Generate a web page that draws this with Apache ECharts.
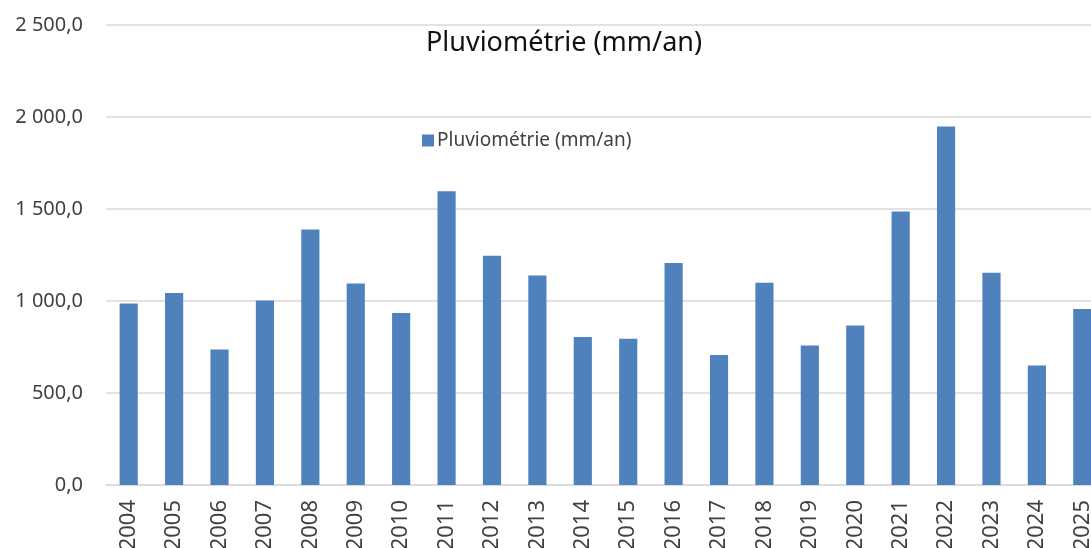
<!DOCTYPE html>
<html>
<head>
<meta charset="utf-8">
<script src="https://cdn.jsdelivr.net/npm/echarts@6/dist/echarts.min.js"></script>
<style>html,body{margin:0;padding:0;background:#fff}#c{width:1091px;height:548px}</style>
</head>
<body>
<div id="c"></div>
<script>
const categories = ['2004','2005','2006','2007','2008','2009','2010','2011','2012','2013','2014','2015','2016','2017','2018','2019','2020','2021','2022','2023','2024','2025'];
const pluvio = [986,1044,736,1003,1389,1095,935,1596,1246,1139,805,795,1207,706,1099,758,867,1486,1949,1153,650,957];
const seriesName = 'Pluviométrie (mm/an)';
const titleText = 'Pluviométrie (mm/an)';

function fmt(v){
  const s = v.toFixed(1).split('.');
  const int = s[0].replace(/\B(?=(\d{3})+(?!\d))/g, ' ');
  return int + ',' + s[1];
}
const chart = echarts.init(document.getElementById('c'));
const FF = '"Noto Sans", sans-serif';
chart.setOption({
  animation:false,
  textStyle:{fontFamily:FF},
  title:{text:titleText,left:559,textAlign:'center',top:25,textStyle:{fontSize:27,fontWeight:'normal',color:'#111',fontFamily:FF}},
  legend:{data:[seriesName],left:417,top:126,itemWidth:12,itemHeight:12,itemGap:4,icon:'rect',textStyle:{fontSize:19,color:'#404040',fontFamily:FF,padding:[0,0,0,-2]}},
  grid:{left:106,width:999,top:25,bottom:63,containLabel:false,outerBoundsMode:'none'},
  xAxis:{type:'category',data:categories,
    axisLine:{lineStyle:{color:'#d9d9d9',width:1.5}},axisTick:{show:false},
    axisLabel:{rotate:90,fontSize:22,color:'#404040',margin:15,fontFamily:FF}},
  yAxis:{type:'value',min:0,max:2500,interval:500,
    axisLine:{show:false},axisTick:{show:false},
    splitLine:{lineStyle:{color:'#d9d9d9',width:1.5}},
    axisLabel:{formatter:fmt,fontSize:20,color:'#404040',margin:23,fontFamily:FF}},
  series:[{name:seriesName,type:'bar',data:pluvio,barWidth:'40%',
    itemStyle:{color:'#4F81BD'}}]
});
</script>
</body>
</html>
